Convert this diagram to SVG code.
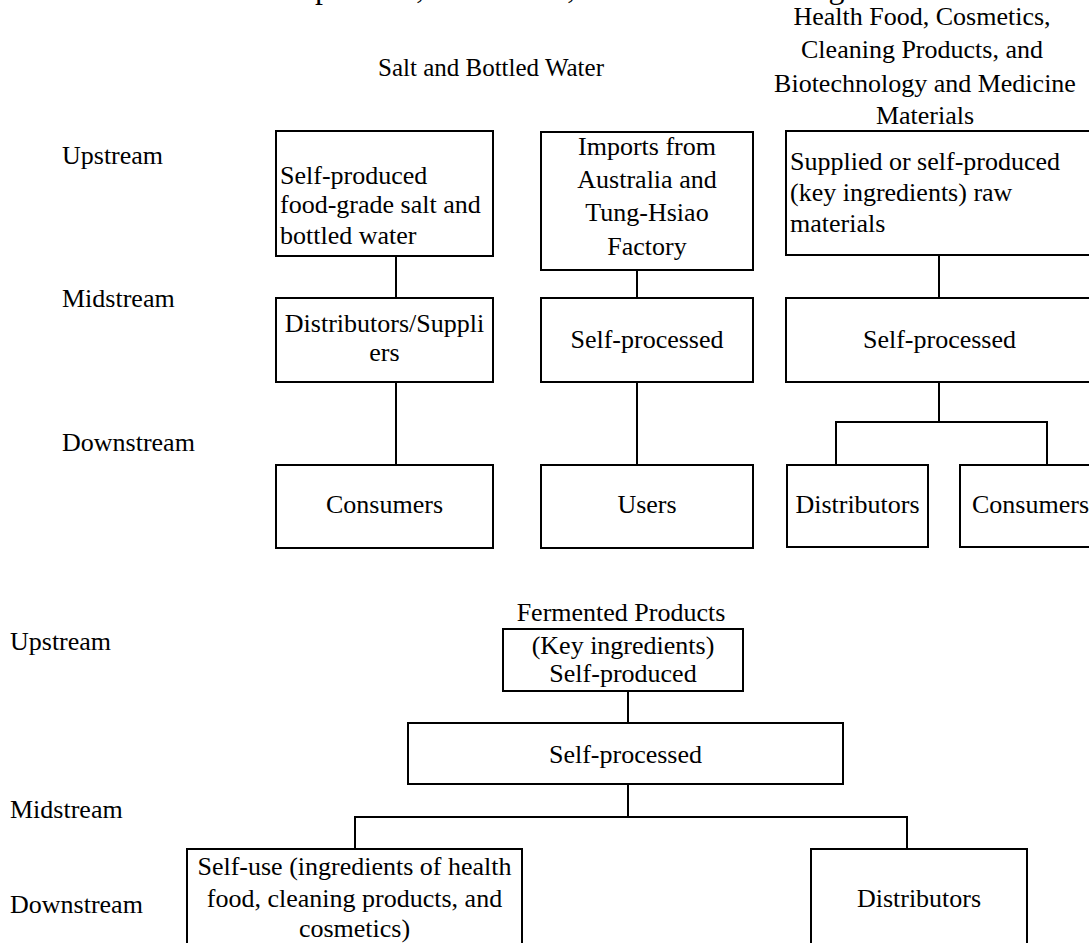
<svg xmlns="http://www.w3.org/2000/svg" width="1089" height="943" viewBox="0 0 1089 943">
<style>
text{font-family:"Liberation Serif","Times New Roman",serif;font-size:26px;fill:#000}
.c{text-anchor:middle}
.box{fill:#fff;stroke:#000;stroke-width:2}
.ln{fill:none;stroke:#000;stroke-width:2}
</style>
<rect width="1089" height="943" fill="#fff"/>
<text x="921" y="-2" style="font-size:32px;text-anchor:end">Relation between upstream, midstream, and downstream segments</text>
<g id="titles">
<text class="c" x="491" y="76" style="font-size:25px">Salt and Bottled Water</text>
<text class="c" x="922" y="25">Health Food, Cosmetics,</text>
<text class="c" x="922" y="58">Cleaning Products, and</text>
<text class="c" x="925" y="92">Biotechnology and Medicine</text>
<text class="c" x="925" y="124">Materials</text>
<text class="c" x="621" y="621">Fermented Products</text>
</g>
<g id="levels">
<text x="62" y="164">Upstream</text>
<text x="62" y="307">Midstream</text>
<text x="62" y="451">Downstream</text>
<text x="10" y="650">Upstream</text>
<text x="10" y="818">Midstream</text>
<text x="10" y="913">Downstream</text>
</g>
<g id="connectors">
<path class="ln" d="M396 256V298M396 382V465"/>
<path class="ln" d="M637 270V298M637 382V465"/>
<path class="ln" d="M939 255V298M939 382V422M836 465V422H1047V465"/>
<path class="ln" d="M628 691V723M628 784V817M355 849V817H907V849"/>
</g>
<g id="n-salt-up"><rect class="box" x="276" y="131" width="217" height="125"/>
<text x="280" y="184">Self-produced</text><text x="280" y="213">food-grade salt and</text><text x="280" y="244">bottled water</text></g>
<g id="n-import-up"><rect class="box" x="541" y="132" width="212" height="138"/>
<text class="c" x="647" y="155">Imports from</text><text class="c" x="647" y="188">Australia and</text><text class="c" x="647" y="221">Tung-Hsiao</text><text class="c" x="647" y="255">Factory</text></g>
<g id="n-health-up"><rect class="box" x="786" y="131" width="307" height="124"/>
<text x="790" y="170">Supplied or self-produced</text><text x="790" y="201">(key ingredients) raw</text><text x="790" y="232">materials</text></g>
<g id="n-salt-mid"><rect class="box" x="276" y="298" width="217" height="84"/>
<text class="c" x="384.5" y="332">Distributors/Suppli</text><text class="c" x="384.5" y="361">ers</text></g>
<g id="n-import-mid"><rect class="box" x="541" y="298" width="212" height="84"/>
<text class="c" x="647" y="348">Self-processed</text></g>
<g id="n-health-mid"><rect class="box" x="786" y="298" width="307" height="84"/>
<text class="c" x="939.5" y="348">Self-processed</text></g>
<g id="n-salt-down"><rect class="box" x="276" y="465" width="217" height="83"/>
<text class="c" x="384.5" y="513">Consumers</text></g>
<g id="n-import-down"><rect class="box" x="541" y="465" width="212" height="83"/>
<text class="c" x="647" y="513">Users</text></g>
<g id="n-health-dist"><rect class="box" x="787" y="465" width="141" height="82"/>
<text class="c" x="857.5" y="513">Distributors</text></g>
<g id="n-health-cons"><rect class="box" x="960" y="465" width="141" height="82"/>
<text class="c" x="1030.5" y="513">Consumers</text></g>
<g id="n-ferm-up"><rect class="box" x="503" y="629" width="240" height="62"/>
<text class="c" x="623" y="654">(Key ingredients)</text><text class="c" x="623" y="682">Self-produced</text></g>
<g id="n-ferm-mid"><rect class="box" x="408" y="723" width="435" height="61"/>
<text class="c" x="625.5" y="763">Self-processed</text></g>
<g id="n-ferm-self"><rect class="box" x="187" y="849" width="335" height="110"/>
<text class="c" x="354.5" y="875">Self-use (ingredients of health</text><text class="c" x="354.5" y="907">food, cleaning products, and</text><text class="c" x="354.5" y="937">cosmetics)</text></g>
<g id="n-ferm-dist"><rect class="box" x="811" y="849" width="216" height="110"/>
<text class="c" x="919" y="907">Distributors</text></g>
</svg>
